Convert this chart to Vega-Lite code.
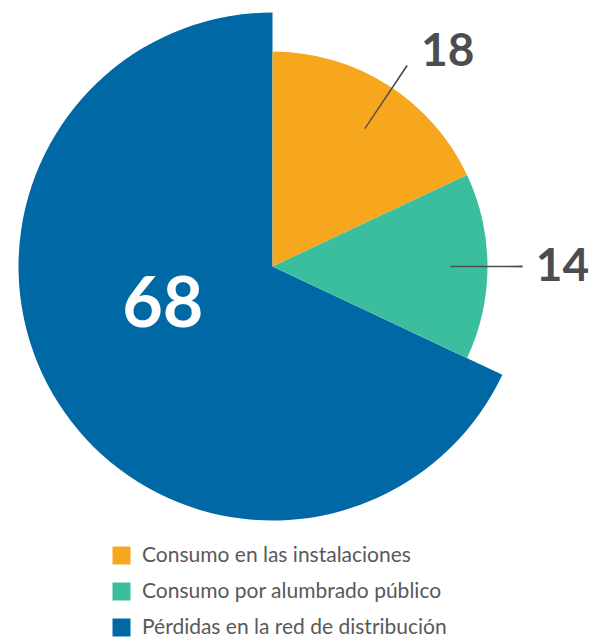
{
  "$schema": "https://vega.github.io/schema/vega-lite/v6.json",
  "width": 545,
  "height": 533,
  "autosize": {"type": "none"},
  "padding": {"left": 0, "top": 0, "right": 46, "bottom": 106},
  "background": "white",
  "config": {"view": {"stroke": null}},
  "data": {
    "values": [
      {"categoria": "Consumo en las instalaciones", "valor": 18},
      {"categoria": "Consumo por alumbrado público", "valor": 14},
      {"categoria": "Pérdidas en la red de distribución", "valor": 68}
    ]
  },
  "transform": [
    {"window": [{"op": "sum", "field": "valor", "as": "fin"}], "sort": [{"field": "categoria"}], "frame": [null, 0]}
  ],
  "encoding": {
    "theta": {"field": "valor", "type": "quantitative", "stack": true},
    "order": {"field": "categoria", "type": "nominal"}
  },
  "layer": [
    {
      "mark": {"type": "arc", "radius": 254, "stroke": null},
      "encoding": {
        "color": {
          "field": "categoria",
          "type": "nominal",
          "scale": {
            "domain": ["Consumo en las instalaciones", "Consumo por alumbrado público", "Pérdidas en la red de distribución"],
            "range": ["#F7A71D", "#3BBE9D", "#0068A5"]
          },
          "legend": {
            "title": null,
            "orient": "none",
            "legendX": 111,
            "legendY": 545,
            "symbolType": "square",
            "symbolSize": 324,
            "symbolStrokeWidth": 0,
            "symbolOpacity": 1,
            "labelFont": "Lato",
            "labelFontSize": 21,
            "labelColor": "#58595B",
            "labelOffset": 10,
            "rowPadding": 14,
            "padding": 0,
            "labelLimit": 500
          }
        },
        "opacity": {"condition": {"test": "datum.categoria === 'Pérdidas en la red de distribución'", "value": 1}, "value": 0}
      }
    },
    {
      "mark": {"type": "arc", "radius": 215, "stroke": null},
      "encoding": {
        "color": {"field": "categoria", "type": "nominal", "legend": null},
        "opacity": {"condition": {"test": "datum.categoria !== 'Pérdidas en la red de distribución'", "value": 1}, "value": 0}
      }
    },
    {
      "mark": {"type": "arc", "radius": 242, "radius2": 166, "thetaOffset": -0.5446, "theta2Offset": -0.5374, "color": "#4D4D4F"},
      "encoding": {
        "theta": {"field": "fin", "type": "quantitative"},
        "theta2": {"field": "fin"},
        "opacity": {"condition": {"test": "datum.categoria === 'Consumo en las instalaciones'", "value": 1}, "value": 0}
      }
    },
    {
      "mark": {"type": "arc", "radius": 250, "radius2": 178, "thetaOffset": -0.4434, "theta2Offset": -0.4362, "color": "#4D4D4F"},
      "encoding": {
        "theta": {"field": "fin", "type": "quantitative"},
        "theta2": {"field": "fin"},
        "opacity": {"condition": {"test": "datum.categoria === 'Consumo por alumbrado público'", "value": 1}, "value": 0}
      }
    },
    {
      "mark": {"type": "text", "radius": 258, "dx": 37, "dy": 3, "font": "Lato", "fontSize": 46, "fontWeight": "bold", "color": "#4D4D4F", "align": "center", "baseline": "middle"},
      "encoding": {
        "text": {"field": "valor", "type": "quantitative"},
        "opacity": {"condition": {"test": "datum.categoria === 'Consumo en las instalaciones'", "value": 1}, "value": 0}
      }
    },
    {
      "mark": {"type": "text", "radius": 290, "dx": 0, "dy": 0, "font": "Lato", "fontSize": 46, "fontWeight": "bold", "color": "#4D4D4F", "align": "center", "baseline": "middle"},
      "encoding": {
        "text": {"field": "valor", "type": "quantitative"},
        "opacity": {"condition": {"test": "datum.categoria === 'Consumo por alumbrado público'", "value": 1}, "value": 0}
      }
    },
    {
      "mark": {"type": "text", "radius": 130, "dx": 0, "dy": -30, "font": "Lato", "fontSize": 70, "fontWeight": "bold", "color": "#FFFFFF", "align": "center", "baseline": "middle"},
      "encoding": {
        "text": {"field": "valor", "type": "quantitative"},
        "opacity": {"condition": {"test": "datum.categoria === 'Pérdidas en la red de distribución'", "value": 1}, "value": 0}
      }
    }
  ]
}
